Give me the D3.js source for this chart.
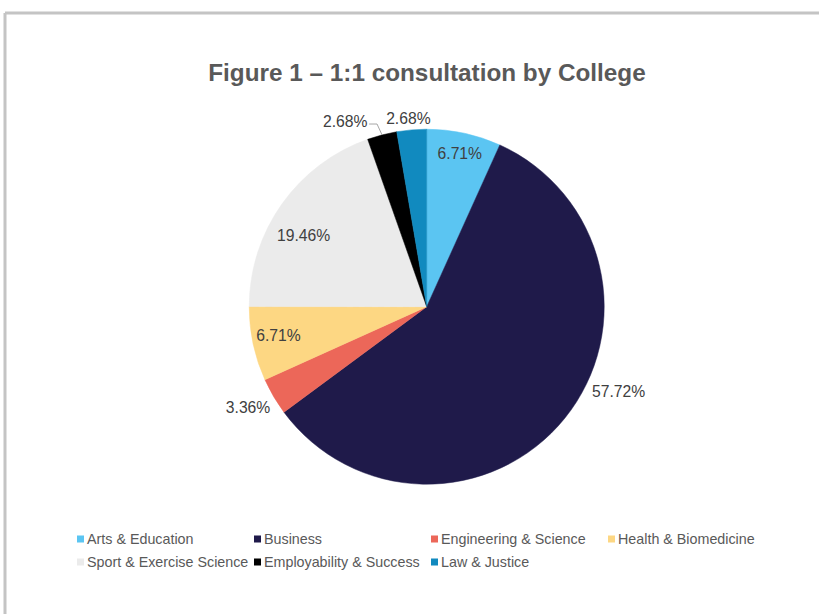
<!DOCTYPE html>
<html>
<head>
<meta charset="utf-8">
<script src="https://cdn.jsdelivr.net/npm/d3@7"></script>
<style>
  body { margin: 0; background: #fff; }
  svg { display: block; font-family: "Liberation Sans", Arial, sans-serif; }
</style>
</head>
<body>
<svg id="chart" width="819" height="614"></svg>
<script>
// data
const categories = ["Arts & Education", "Business", "Engineering & Science", "Health & Biomedicine",
                    "Sport & Exercise Science", "Employability & Success", "Law & Justice"];
const values = [6.71, 57.72, 3.36, 6.71, 19.46, 2.68, 2.68];
const colors = ["#5bc5f2", "#1f1a4a", "#ec6759", "#fdd783", "#ebebeb", "#000000", "#118abf"];

// where each label sits: radius as fraction of R, angle shift in degrees
const labelLayout = [
  { r: 0.885, shift: 0 },
  { r: 1.183, shift: -15 },
  { r: 1.155, shift: 1 },
  { r: 0.85, shift: 1.3 },
  { r: 0.80, shift: -5.4 },
  { r: 1.14, shift: -9.2, leader: true },
  { r: 1.066, shift: -0.7 }
];

const svg = d3.select("#chart");
const cx = 426.7, cy = 306.7, R = 177.5;

// chart frame (top and left edges visible)
svg.append("line").attr("x1", 5).attr("y1", 13).attr("x2", 819).attr("y2", 13)
  .attr("stroke", "#c4c4c4").attr("stroke-width", 3);
svg.append("line").attr("x1", 5).attr("y1", 13).attr("x2", 5).attr("y2", 614)
  .attr("stroke", "#c4c4c4").attr("stroke-width", 3);

svg.append("text")
  .attr("x", 427).attr("y", 81)
  .attr("text-anchor", "middle")
  .attr("font-size", 24.3).attr("font-weight", "bold")
  .attr("fill", "#595959")
  .text("Figure 1 \u2013 1:1 consultation by College");

const rows = categories.map((c, i) => ({ name: c, value: values[i], color: colors[i], lay: labelLayout[i] }));

const pie = d3.pie().sort(null).value(d => d.value);
const arcs = pie(rows);
const arc = d3.arc().innerRadius(0).outerRadius(R);

const g = svg.append("g").attr("transform", `translate(${cx},${cy})`);

g.selectAll("path.slice")
  .data(arcs)
  .enter().append("path")
  .attr("class", "slice")
  .attr("d", arc)
  .attr("fill", d => d.data.color)
  .attr("stroke", d => d.data.color)
  .attr("stroke-width", 0.5);

function labelPoint(d) {
  const mid = (d.startAngle + d.endAngle) / 2 + d.data.lay.shift * Math.PI / 180;
  const r = R * d.data.lay.r;
  return [r * Math.sin(mid), -r * Math.cos(mid)];
}

// leader line for the small slice whose label is pushed aside
arcs.filter(d => d.data.lay.leader).forEach(d => {
  const mid = (d.startAngle + d.endAngle) / 2;
  const edge = [R * Math.sin(mid), -R * Math.cos(mid)];
  const p = labelPoint(d);
  const bend = [edge[0] - 5, p[1] + 2.5];
  g.append("polyline")
    .attr("points", [edge, bend, [p[0] + 24, p[1] + 2.5]].map(q => q.join(",")).join(" "))
    .attr("fill", "none")
    .attr("stroke", "#a6a6a6")
    .attr("stroke-width", 1);
});

const fmt = d3.format(".2f");
g.selectAll("text.lbl")
  .data(arcs)
  .enter().append("text")
  .attr("class", "lbl")
  .attr("transform", d => `translate(${labelPoint(d)})`)
  .attr("text-anchor", "middle")
  .attr("dominant-baseline", "central")
  .attr("font-size", 15.7)
  .attr("fill", "#404040")
  .text(d => fmt(d.data.value) + "%");

// legend, 4 per row
const legend = svg.append("g");
const item = legend.selectAll("g.item")
  .data(rows)
  .enter().append("g")
  .attr("class", "item")
  .attr("transform", (d, i) => `translate(${77 + (i % 4) * 177},${539 + Math.floor(i / 4) * 23})`);

item.append("rect")
  .attr("x", 0).attr("y", -3.5)
  .attr("width", 7).attr("height", 7)
  .attr("fill", d => d.color);

item.append("text")
  .attr("x", 10).attr("y", 0)
  .attr("dominant-baseline", "central")
  .attr("font-size", 14.3)
  .attr("fill", "#595959")
  .text(d => d.name);
</script>
</body>
</html>
